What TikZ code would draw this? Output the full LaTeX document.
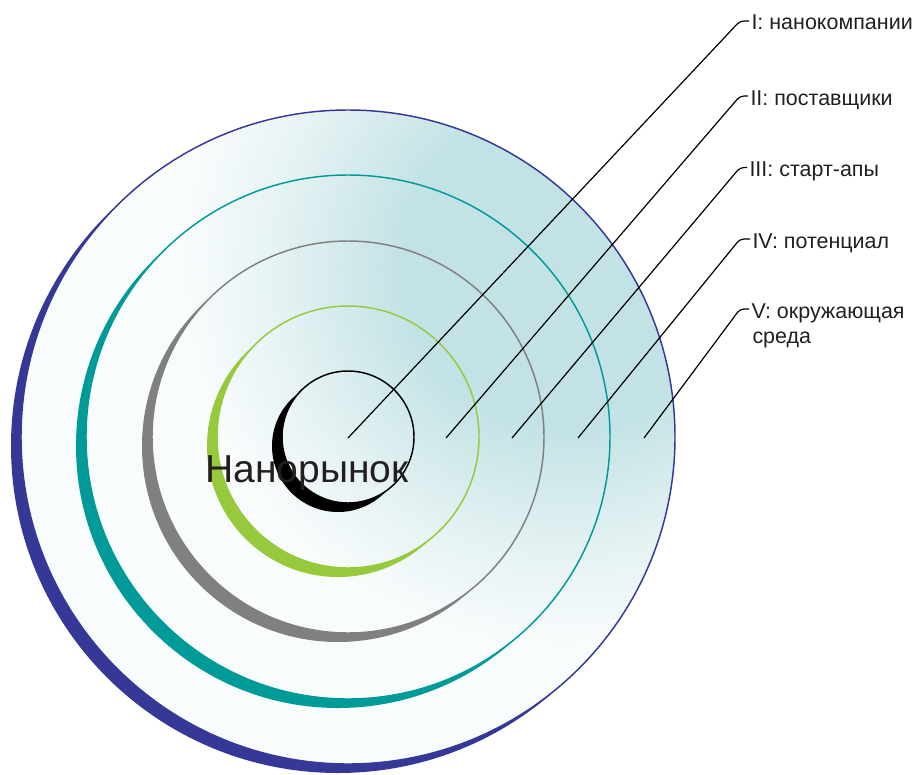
\documentclass[tikz,border=0pt]{standalone}
\usepackage{fontspec}
\setmainfont{Liberation Sans}

\definecolor{ringV}{RGB}{53,56,150}
\definecolor{ringIV}{RGB}{0,155,152}
\definecolor{ringIII}{RGB}{128,128,128}
\definecolor{ringII}{RGB}{151,201,60}
\definecolor{ringI}{RGB}{0,0,0}
\definecolor{haze}{RGB}{194,226,229}
\definecolor{hazemid}{RGB}{229,242,243}
\definecolor{hazefaint}{RGB}{249,252,253}
\definecolor{inktxt}{RGB}{35,31,32}

\pgfdeclareradialshading{hazeglow}{\pgfpoint{0bp}{0bp}}{color(0bp)=(haze); color(10bp)=(haze); color(18bp)=(hazemid); color(24bp)=(hazefaint); color(50bp)=(hazefaint)}

\tikzset{every picture/.style={line width=0.75pt}}
\tikzset{
  rim/.style={line width=1.1pt},
  leader/.style={draw=black, line width=0.9pt, rounded corners=3},
  lbl/.style={anchor=base west, inner sep=0pt, text=inktxt, font=\fontsize{16.1}{19}\selectfont},
  bigtxt/.style={anchor=base west, inner sep=0pt, text=inktxt, font=\fontsize{29.25}{34}\selectfont}
}

\begin{document}
\begin{tikzpicture}[x=0.75pt,y=0.75pt,yscale=-1,xscale=1]
    \useasboundingbox (0,0) rectangle (916,774);
    \coordinate (O) at (348,437);

    %Shading inside the outer ring
    \fill[hazefaint] (O) circle (327);
    \begin{scope}
      \clip (O) circle (327);
      \shade[shading=hazeglow] (565,265) circle (400);
    \end{scope}

    %Crescent: ring V
    \begin{scope}
      \clip ([shift={(-10,9)}]O) circle (327);
      \fill[ringV, even odd rule] (O) circle (327) (-20,-20) rectangle (936,794);
    \end{scope}
    %Crescent: ring IV
    \begin{scope}
      \clip ([shift={(-10,9)}]O) circle (262);
      \fill[ringIV, even odd rule] (O) circle (262) (-20,-20) rectangle (936,794);
    \end{scope}
    %Crescent: ring III
    \begin{scope}
      \clip ([shift={(-10,9)}]O) circle (196);
      \fill[ringIII, even odd rule] (O) circle (196) (-20,-20) rectangle (936,794);
    \end{scope}
    %Crescent: ring II
    \begin{scope}
      \clip ([shift={(-10,9)}]O) circle (131);
      \fill[ringII, even odd rule] (O) circle (131) (-20,-20) rectangle (936,794);
    \end{scope}
    %Crescent: ring I
    \begin{scope}
      \clip ([shift={(-10,9)}]O) circle (66);
      \fill[ringI, even odd rule] (O) circle (66) (-20,-20) rectangle (936,794);
    \end{scope}

    %Rims
    \draw[rim, ringV] (O) circle (327);
    \draw[rim, ringIV] (O) circle (262);
    \draw[rim, ringIII] (O) circle (196);
    \draw[rim, ringII] (O) circle (131);
    \draw[rim, ringI] (O) circle (66);

    %Labels
    \node[lbl] (tI) at (751,30) {I: нанокомпании};
    \node[lbl] (tII) at (750,105) {II: поставщики};
    \node[lbl] (tIII) at (749,176.5) {III: старт-апы};
    \node[lbl] (tIV) at (752,248) {IV: потенциал};
    \node[lbl] (tV) at (751,318) {V: окружающая};
    \node[lbl] (tVb) at (752,343) {среда};

    %Leader ends
    \coordinate (pI) at (348,438);
    \coordinate (pII) at (446,438);
    \coordinate (pIII) at (512,438);
    \coordinate (pIV) at (578,438);
    \coordinate (pV) at (644,438);

    %Leaders
    \draw[leader] (pI) -- ([shift={(-11,-9)}]tI.base west) -- ([shift={(-2,-9)}]tI.base west);
    \draw[leader] (pII) -- ([shift={(-10,-9)}]tII.base west) -- ([shift={(-2,-9)}]tII.base west);
    \draw[leader] (pIII) -- ([shift={(-9,-9)}]tIII.base west) -- ([shift={(-2,-9)}]tIII.base west);
    \draw[leader] (pIV) -- ([shift={(-12,-9)}]tIV.base west) -- ([shift={(-2,-9)}]tIV.base west);
    \draw[leader] (pV) -- ([shift={(-11,-9)}]tV.base west) -- ([shift={(-2,-9)}]tV.base west);

    %Market label
    \node[bigtxt] (mkt) at (205,482) {Нанорынок};

\end{tikzpicture}
\end{document}
